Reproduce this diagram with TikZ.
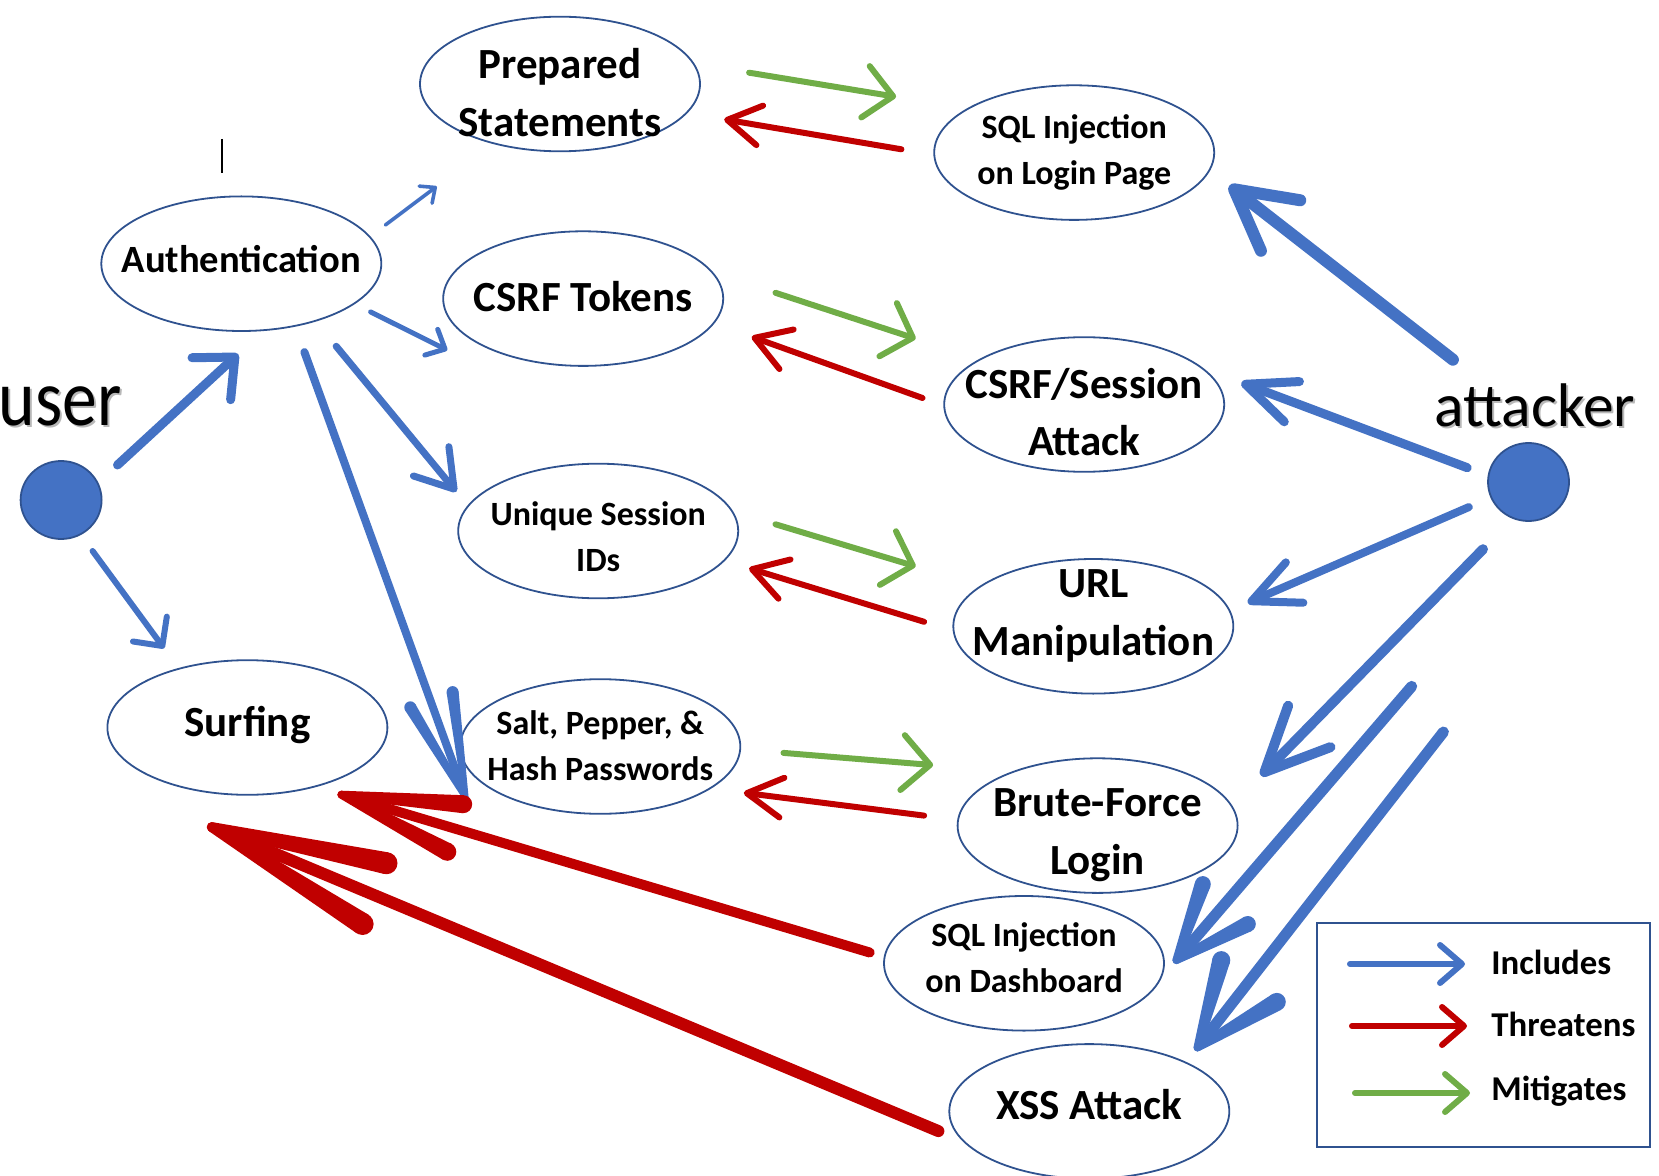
\documentclass[tikz,border=0pt]{standalone}
\usepackage{fontspec}
\usepackage{graphicx}
\setmainfont{Carlito}
\usetikzlibrary{shapes.geometric,arrows.meta,calc}
\definecolor{ucline}{RGB}{47,82,143}
\definecolor{incblue}{RGB}{68,114,196}
\definecolor{thrred}{RGB}{192,0,0}
\definecolor{mitgreen}{RGB}{112,173,71}
\newcommand\ucl[2]{\makebox[0pt]{\raisebox{#1}[0pt][0pt]{\begin{tabular}[b]{@{}c@{}}#2\end{tabular}}}}
% tapered arrow arm: colour, tip, arm end, end radius, tip radius
\newcommand\tarm[5]{%
  \fill[#1] ($(#2)!#5!90:(#3)$) -- ($(#3)!#4!-90:(#2)$) -- ($(#3)!#4!90:(#2)$) -- ($(#2)!#5!-90:(#3)$) -- cycle;
  \fill[#1] (#3) circle[radius=#4];
  \fill[#1] (#2) circle[radius=#5];}
\begin{document}
\begin{tikzpicture}[x=0.5pt,y=-0.5pt,
  uc/.style={ellipse, draw=ucline, line width=0.9pt, minimum width=140pt, minimum height=67.3pt, inner sep=0pt, outer sep=0pt},
  bigt/.style={font=\bfseries\fontsize{21.5pt}{28.8pt}\selectfont},
  smallt/.style={font=\bfseries\fontsize{17pt}{23pt}\selectfont},
  midt/.style={font=\bfseries\fontsize{19.3pt}{24pt}\selectfont},
  actor/.style={ellipse, fill=incblue, draw=ucline, line width=0.9pt, minimum width=40.5pt, minimum height=39pt, inner sep=0pt},
  inc/.style={draw=incblue, line cap=round},
  thr/.style={draw=thrred, line cap=round},
  mit/.style={draw=mitgreen, line cap=round},
  barb/.style 2 args={-{Straight Barb[length=#1,width=#2,round]}},
  lgtext/.style={font=\bfseries\fontsize{17.4pt}{20pt}\selectfont, anchor=base west, inner sep=0pt},
  userfont/.style={font=\fontsize{40pt}{42pt}\selectfont, anchor=base east, inner sep=0pt},
  attfont/.style={font=\fontsize{30.8pt}{32pt}\selectfont, anchor=base west, inner sep=0pt},
]
\useasboundingbox (0,0) rectangle (1659,1176);

% ---------- actors ----------
\node[actor] (user) at (61.1,500) {};
\node[actor] (attacker) at (1528.5,482) {};
\node[userfont, text=black!28] (usersh) at (124,427.5) {\scalebox{0.87}[1]{user}};
\node[userfont] (userlbl) at (122,425) {\scalebox{0.87}[1]{user}};
\node[attfont, text=black!28] (attsh) at (1436,428.5) {attacker};
\node[attfont] (attlbl) at (1434,426) {attacker};

% ---------- use cases ----------
\node[uc, bigt]   (prep)  at (560,84)       {\ucl{-26.2pt}{Prepared\\Statements}};
\node[uc, smallt] (sqll)  at (1074.2,152.6) {\ucl{-15.8pt}{SQL Injection\\on Login Page}};
\node[uc, midt]   (auth)  at (241.3,263.7)  {\ucl{-4.5pt}{Authentication}};
\node[uc, bigt]   (csrft) at (583.2,298.6)  {\ucl{-6.3pt}{CSRF Tokens}};
\node[uc, bigt]   (csrfa) at (1084.2,404.5) {\ucl{-25.7pt}{CSRF/Session\\Attack}};
\node[uc, smallt] (usid)  at (598.2,531)    {\ucl{-20.4pt}{Unique Session\\IDs}};
\node[uc, bigt]   (url)   at (1093.3,626.3) {\ucl{-14.5pt}{URL\\Manipulation}};
\node[uc, bigt]   (surf)  at (247.4,727.5)  {\ucl{-4.6pt}{Surfing}};
\node[uc, smallt] (salt)  at (600.3,746.5)  {\ucl{-16.8pt}{Salt, Pepper, \&\\Hash Passwords}};
\node[uc, bigt]   (brute) at (1097.6,825.6) {\ucl{-24.2pt}{Brute-Force\\Login}};
\node[uc, smallt] (sqld)  at (1024,963.3)   {\ucl{-14.5pt}{SQL Injection\\on Dashboard}};
\node[uc, bigt]   (xss)   at (1089.3,1111.4){\ucl{-4.1pt}{XSS Attack}};

% ---------- connector end points ----------
\coordinate (ua-s) at (117.5,465);   \coordinate (ua-t) at (238.2,354);
\coordinate (us-s) at (92.6,551);    \coordinate (us-t) at (164.1,648.4);
\coordinate (ap-s) at (385.4,225);   \coordinate (ap-t) at (436.7,186.4);
\coordinate (ac-s) at (370.6,311.9); \coordinate (ac-t) at (447.3,350.2);
\coordinate (au-s) at (336.2,346.3); \coordinate (au-t) at (456.3,491.8);
\coordinate (as-s) at (304.4,352.1); \coordinate (as-t) at (465.9,798.5);
\coordinate (as-a) at (410.3,707.3); \coordinate (as-b) at (452.6,692.1);
\coordinate (xl-s) at (1452.9,359.7); \coordinate (xl-t) at (1229.3,185.6);
\coordinate (xc-s) at (1467.2,467.7); \coordinate (xc-t) at (1241.4,382.7);
\coordinate (xu-s) at (1468.8,507.1); \coordinate (xu-t) at (1247.8,602.8);
\coordinate (xb-s) at (1483,549.2);   \coordinate (xb-t) at (1261,775.7);
\coordinate (xd-s) at (1411.7,686.4); \coordinate (xd-t) at (1176.4,960.1);
\coordinate (xd-a) at (1247.8,924);   \coordinate (xd-b) at (1202.8,884.1);
\coordinate (xx-s) at (1443.4,732);   \coordinate (xx-t) at (1197.5,1047.5);
\coordinate (xx-a) at (1276.8,1001.9); \coordinate (xx-b) at (1221.3,960.1);
\coordinate (rm-s) at (901.4,149.3); \coordinate (rm-t) at (724.2,119.4);
\coordinate (rn-s) at (922.5,398);   \coordinate (rn-t) at (751.7,336.8);
\coordinate (ro-s) at (924.1,621.8); \coordinate (ro-t) at (749.1,568.3);
\coordinate (rp-s) at (924.1,815.6); \coordinate (rp-t) at (743.8,792.8);
\coordinate (rq-s) at (869.7,952.5); \coordinate (rq-t) at (341.4,794.7);
\coordinate (rq-a) at (463.2,804.2); \coordinate (rq-b) at (447.3,851.8);
\coordinate (rr-s) at (938.4,1131.1); \coordinate (rr-t) at (211.8,827.1);
\coordinate (rr-a) at (386.5,863.2); \coordinate (rr-b) at (362.6,924);
\coordinate (gs-s) at (749.1,72.7);  \coordinate (gs-t) at (896.1,96.8);
\coordinate (gt-s) at (775.5,292.8); \coordinate (gt-t) at (915.7,338.7);
\coordinate (gu-s) at (775.5,524.3); \coordinate (gu-t) at (915.7,566.4);
\coordinate (gv-s) at (783.5,752.9); \coordinate (gv-t) at (933.1,765.1);
\coordinate (cur-a) at (221.7,139);  \coordinate (cur-b) at (221.7,173.3);

% ---------- includes (blue) ----------
\draw[inc, line width=4.5pt, barb={16pt}{28.5pt}] (ua-s) -- (ua-t);
\draw[inc, line width=3pt, barb={10.5pt}{21pt}] (us-s) -- (us-t);
\draw[inc, line width=1.8pt, barb={6pt}{10.7pt}] (ap-s) -- (ap-t);
\draw[inc, line width=2.5pt, barb={7.7pt}{14.4pt}] (ac-s) -- (ac-t);
\draw[inc, line width=3.5pt, barb={18pt}{23pt}] (au-s) -- (au-t);
\draw[inc, line width=4pt, shorten >=7pt] (as-s) -- (as-t);
\tarm{incblue}{as-t}{as-a}{3pt}{1.4pt}\tarm{incblue}{as-t}{as-b}{3pt}{1.4pt}
\draw[inc, line width=6pt, barb={29.5pt}{32pt}] (xl-s) -- (xl-t);
\draw[inc, line width=4.5pt, barb={24.7pt}{21.5pt}] (xc-s) -- (xc-t);
\draw[inc, line width=4pt, barb={23.5pt}{22pt}] (xu-s) -- (xu-t);
\draw[inc, line width=5pt, barb={32pt}{29.6pt}] (xb-s) -- (xb-t);
\draw[inc, line width=5.5pt, shorten >=6pt] (xd-s) -- (xd-t);
\tarm{incblue}{xd-t}{xd-a}{4pt}{2pt}\tarm{incblue}{xd-t}{xd-b}{4pt}{2pt}
\draw[inc, line width=5.5pt, shorten >=6pt] (xx-s) -- (xx-t);
\tarm{incblue}{xx-t}{xx-a}{4.5pt}{2pt}\tarm{incblue}{xx-t}{xx-b}{4.5pt}{2pt}

% ---------- threatens (red) ----------
\draw[thr, line width=3pt, barb={16.5pt}{20pt}] (rm-s) -- (rm-t);
\draw[thr, line width=3pt, barb={17pt}{21pt}] (rn-s) -- (rn-t);
\draw[thr, line width=3pt, barb={17pt}{20.5pt}] (ro-s) -- (ro-t);
\draw[thr, line width=3pt, barb={17.7pt}{20pt}] (rp-s) -- (rp-t);
\draw[thr, line width=5pt, shorten >=8pt] (rq-s) -- (rq-t);
\tarm{thrred}{rq-t}{rq-a}{4.5pt}{2pt}\tarm{thrred}{rq-t}{rq-b}{4.5pt}{2pt}
\draw[thr, line width=6pt, shorten >=10pt] (rr-s) -- (rr-t);
\tarm{thrred}{rr-t}{rr-a}{5.5pt}{2.5pt}\tarm{thrred}{rr-t}{rr-b}{5.5pt}{2.5pt}

% ---------- mitigates (green) ----------
\draw[mit, line width=3pt, barb={14pt}{26pt}] (gs-s) -- (gs-t);
\draw[mit, line width=3pt, barb={13pt}{28pt}] (gt-s) -- (gt-t);
\draw[mit, line width=3pt, barb={13pt}{28pt}] (gu-s) -- (gu-t);
\draw[mit, line width=3pt, barb={13.8pt}{27.5pt}] (gv-s) -- (gv-t);

% ---------- cursor mark ----------
\draw[black, line width=1pt] (cur-a) -- (cur-b);

% ---------- legend ----------
\node[draw=ucline, line width=1pt, minimum width=166.5pt, minimum height=112.2pt, inner sep=0pt, anchor=north west] (legend) at (1315.5,922) {};
\coordinate (li-s) at (1350,964);  \coordinate (li-t) at (1465,964);
\coordinate (lt-s) at (1352,1026); \coordinate (lt-t) at (1467,1026);
\coordinate (lm-s) at (1355,1093); \coordinate (lm-t) at (1470,1093);
\draw[inc, line width=3pt, barb={11pt}{19pt}] (li-s) -- (li-t);
\draw[thr, line width=3pt, barb={11pt}{19pt}] (lt-s) -- (lt-t);
\draw[mit, line width=3pt, barb={11pt}{19pt}] (lm-s) -- (lm-t);
\node[lgtext] (lgi) at (1491,974.3) {Includes};
\node[lgtext] (lgt) at (1491,1036.7) {Threatens};
\node[lgtext] (lgm) at (1491,1100) {Mitigates};
\end{tikzpicture}
\end{document}
